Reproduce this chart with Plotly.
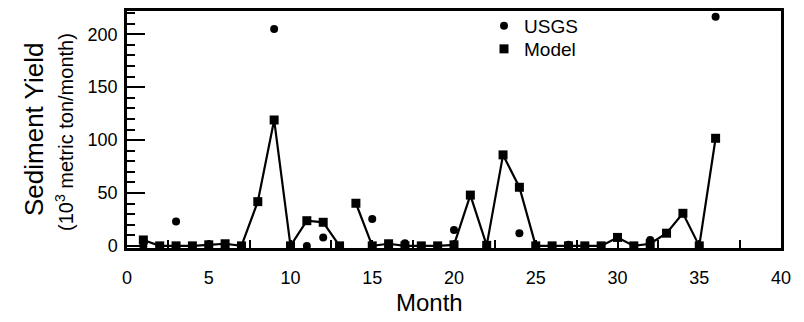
import plotly.graph_objects as go

months = list(range(1, 37))
model = [5.6, 0, 0, 0, 1, 2, 0, 41.8, 119, 0, 23.8, 22.3, 0,
         40.3, 0, 2, 0, 0, 0, 1, 48, 0.5, 86, 55.4, 0, 0, 0, 0, 0,
         8, 0, 2, 12, 30.8, 0, 101.7]
usgs = [0, 0, 23, 0, 1.5, 0, 0, None, 205, 0, 0, 8, 0,
        None, 25.4, 0, 2.5, 0, 0, 15, None, 0, None, 12, 0, 0, 1, 0, 0,
        None, 0, 5.6, None, None, 0, 216.6]
model_breaks_after = [13]

x_ticks = [0, 5, 10, 15, 20, 25, 30, 35, 40]
y_ticks = [0, 50, 100, 150, 200]

FONT = "Liberation Sans, Arial, Helvetica, sans-serif"

# model line with breaks
lx, ly = [], []
for m, v in zip(months, model):
    lx.append(m)
    ly.append(v)
    if m in model_breaks_after:
        lx.append(None)
        ly.append(None)

fig = go.Figure()
fig.add_trace(go.Scatter(x=months, y=usgs, mode="markers", name="USGS",
                         marker=dict(symbol="circle", size=8, color="black"),
                         cliponaxis=False, legend="legend"))
fig.add_trace(go.Scatter(x=lx, y=ly, mode="lines", showlegend=False,
                         line=dict(color="black", width=2.2), cliponaxis=False))
fig.add_trace(go.Scatter(x=months, y=model, mode="markers", name="Model",
                         marker=dict(symbol="square", size=9, color="black"),
                         cliponaxis=False, legend="legend2"))

leg_common = dict(xanchor="left", yanchor="top", bgcolor="rgba(0,0,0,0)",
                  font=dict(size=19), itemsizing="trace")

fig.update_layout(
    width=804, height=322,
    margin=dict(l=127, r=23, t=11, b=74, autoexpand=False),
    paper_bgcolor="white", plot_bgcolor="white",
    font=dict(family=FONT, size=18, color="black"),
    showlegend=True,
    legend=dict(x=(484 - 127) / 654, y=(248 - 7) / 237, **leg_common),
    legend2=dict(x=(484 - 127) / 654, y=(248 - 30) / 237, **leg_common),
    xaxis=dict(range=[0, 40], tickmode="array", tickvals=x_ticks,
               ticktext=[str(t) for t in x_ticks],
               ticks="inside", ticklen=8, tickwidth=1.5, tickcolor="black",
               minor=dict(dtick=2.5, tick0=0, ticks="inside", ticklen=8,
                          tickwidth=1.5, tickcolor="black"),
               showline=True, linewidth=2.5, linecolor="black", mirror=True,
               showgrid=False, zeroline=False, ticklabelstandoff=12,
               automargin=False),
    yaxis=dict(range=[-2, 222], tickmode="array", tickvals=y_ticks,
               ticktext=[str(t) for t in y_ticks],
               ticks="inside", ticklen=18, tickwidth=2, tickcolor="black",
               minor=dict(dtick=10, tick0=0, ticks="inside", ticklen=8,
                          tickwidth=1.5, tickcolor="black"),
               showline=True, linewidth=2.5, linecolor="black", mirror=True,
               showgrid=False, zeroline=False, ticklabelstandoff=3,
               automargin=False),
)

fig.add_annotation(text="Month", xref="paper", yref="paper",
                   x=(429 - 127) / 654, y=(248 - 302) / 237,
                   xanchor="center", yanchor="middle", showarrow=False,
                   font=dict(size=24))
fig.add_annotation(text="Sediment Yield", xref="paper", yref="paper",
                   x=(34 - 127) / 654, y=(248 - 130) / 237, textangle=-90,
                   xanchor="center", yanchor="middle", showarrow=False,
                   font=dict(size=26))
fig.add_annotation(text="(10<sup>3</sup> metric ton/month)", xref="paper", yref="paper",
                   x=(64 - 127) / 654, y=(248 - 132) / 237, textangle=-90,
                   xanchor="center", yanchor="middle", showarrow=False,
                   font=dict(size=20))

fig.write_html("out.html")
